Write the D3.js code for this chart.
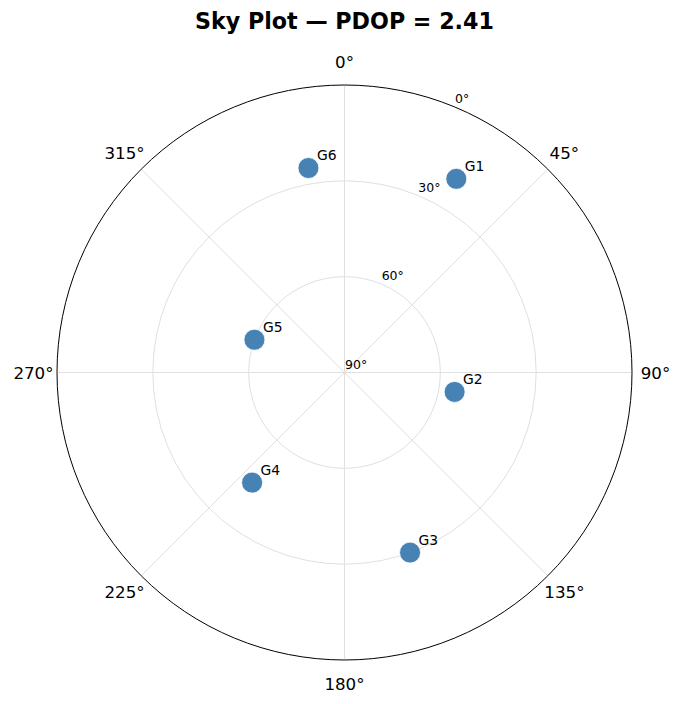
<!DOCTYPE html>
<html><head><meta charset="utf-8">
<script src="https://cdn.jsdelivr.net/npm/d3@7"></script>
<style>body{margin:0;background:#fff;} svg{display:block;font-family:"DejaVu Sans",sans-serif;}</style>
</head><body>
<svg id="c" width="683" height="704"></svg>
<script>
const title = "Sky Plot — PDOP = 2.41";
const satNames = ["G1","G2","G3","G4","G5","G6"];
const satAzimuth = [30,100,160,220,290,350];
const satElevation = [20,55,30,45,60,25];
const azimuthTicks = [0,45,90,135,180,225,270,315];
const elevationTicks = [0,30,60,90];
const elevationGrid = [30,60];

const svg = d3.select("#c");
const cx = 344.5, cy = 372.5, R = 287.5;
const rScale = d3.scaleLinear().domain([90,0]).range([0,R]);
const aScale = d3.scaleLinear().domain([0,360]).range([0,2*Math.PI]);
const pos = (az, el) => {
  const a = aScale(az), r = rScale(el);
  return [cx + r*Math.sin(a), cy - r*Math.cos(a)];
};

svg.append("text").attr("x",cx).attr("y",29).attr("text-anchor","middle")
  .attr("font-size",22.2).attr("font-weight","bold").text(title);

const g = svg.append("g");
azimuthTicks.forEach(az=>{
  const [x,y] = pos(az,0);
  g.append("line").attr("x1",cx).attr("y1",cy).attr("x2",x).attr("y2",y)
    .attr("stroke","#e0e0e0").attr("stroke-width",1);
});
elevationGrid.forEach(el=>{
  g.append("circle").attr("cx",cx).attr("cy",cy).attr("r",rScale(el))
    .attr("fill","none").attr("stroke","#e0e0e0").attr("stroke-width",1);
});
g.append("circle").attr("cx",cx).attr("cy",cy).attr("r",R)
  .attr("fill","none").attr("stroke","#000").attr("stroke-width",1);

azimuthTicks.forEach(az=>{
  const a = aScale(az), r = R + 23.5;
  g.append("text").attr("x",cx + r*Math.sin(a)).attr("y",cy - r*Math.cos(a))
    .attr("text-anchor","middle").attr("dominant-baseline","central")
    .attr("font-size",16.7).text(az+"°");
});
elevationTicks.forEach(el=>{
  const [x,y] = pos(22.5, el);
  g.append("text").attr("x",x+0.5).attr("y",y-3.5).attr("font-size",12.5).text(el+"°");
});

satNames.forEach((n,i)=>{
  const [x,y] = pos(satAzimuth[i], satElevation[i]);
  g.append("circle").attr("cx",x).attr("cy",y).attr("r",10.5)
    .attr("fill","#4682b4").attr("stroke","#fff").attr("stroke-width",0.8);
  g.append("text").attr("x",x+8.5).attr("y",y-8).attr("font-size",13.9).text(n);
});
</script>
</body></html>
